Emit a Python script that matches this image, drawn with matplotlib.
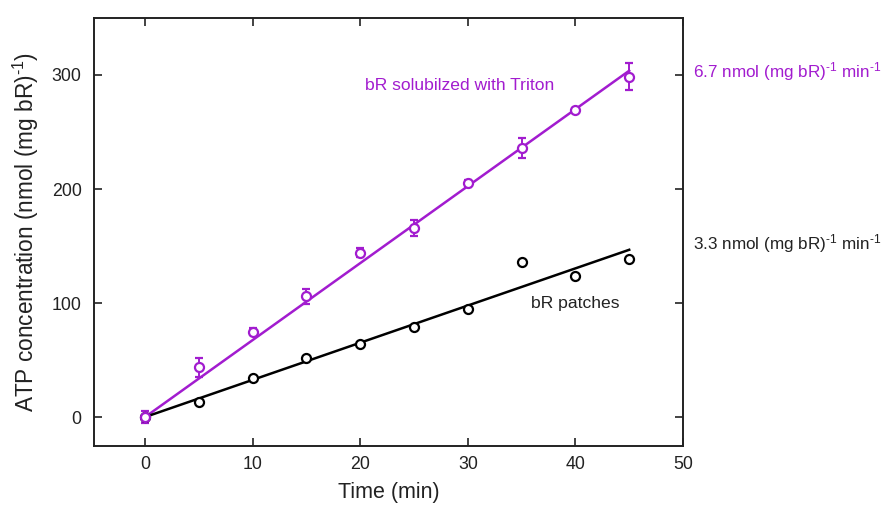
import matplotlib.pyplot as plt
import numpy as np

plt.rcParams["font.family"] = ["Liberation Sans", "DejaVu Sans"]
plt.rcParams["mathtext.fontset"] = "custom"
plt.rcParams["mathtext.rm"] = "Liberation Sans"
plt.rcParams["mathtext.it"] = "Liberation Sans:italic"
plt.rcParams["mathtext.bf"] = "Liberation Sans:bold"

PURPLE = "#A21CCF"
INK = "#222222"

time_min = [0, 5, 10, 15, 20, 25, 30, 35, 40, 45]
triton_atp = [0, 43.5, 75, 106, 144, 165.5, 205, 236, 269, 298.5]
triton_err = [5, 8.5, 3, 6.5, 4, 7, 3, 8.5, 2, 12]
patches_atp = [0, 13.5, 34, 52, 64, 79, 94.5, 136, 124, 138.5]

# fitted rates, nmol (mg bR)^-1 min^-1
triton_slope = 6.75
patches_slope = 3.26
fit_range = [0, 45]

SUP = r"$^{\text{-1}}$"


def main() -> None:
    fig = plt.figure(figsize=(8.83, 5.05), dpi=100)
    ax = fig.add_axes([0.1065, 0.1168, 0.667, 0.8476])

    fx = np.array(fit_range, dtype=float)
    ax.plot(fx, triton_slope * fx, color=PURPLE, linewidth=1.8, zorder=2)
    ax.plot(fx, patches_slope * fx, color="black", linewidth=1.8, zorder=2)

    ax.errorbar(time_min, triton_atp, yerr=triton_err, fmt="o", color=PURPLE,
                mfc="white", mec=PURPLE, ms=6.5, mew=1.6, elinewidth=1.4,
                capsize=3, capthick=1.4, zorder=3)
    ax.plot(time_min, patches_atp, "o", mfc="white", mec="black", ms=6.5, mew=1.6, zorder=3)

    ax.text(20.4, 291, "bR solubilzed with Triton", color=PURPLE, fontsize=12.6,
            va="center", ha="left")
    ax.text(35.9, 100, "bR patches", color=INK, fontsize=12.6, va="center", ha="left")
    ax.text(50.95, 303, f"6.7 nmol (mg bR){SUP} min{SUP}", color=PURPLE, fontsize=12.3,
            va="center", ha="left", clip_on=False)
    ax.text(50.95, 152, f"3.3 nmol (mg bR){SUP} min{SUP}", color=INK, fontsize=12.3,
            va="center", ha="left", clip_on=False)

    ax.set_xlim(-4.74, 50)
    ax.set_ylim(-25.4, 350)
    ax.set_xticks([0, 10, 20, 30, 40, 50])
    ax.set_yticks([0, 100, 200, 300])
    ax.tick_params(direction="in", length=6, width=1.2, top=True, right=True,
                   labelsize=12.8, pad=7, colors=INK)
    ax.tick_params(axis="y", pad=9)
    for spine in ax.spines.values():
        spine.set_linewidth(1.4)
        spine.set_color(INK)

    ax.set_xlabel("Time (min)", fontsize=15.5, labelpad=7, color=INK)
    ax.set_ylabel(f"ATP concentration (nmol (mg bR){SUP})", fontsize=16.3, labelpad=8, color=INK)

    fig.savefig("out.png", dpi=100)
    plt.close(fig)


if __name__ == "__main__":
    main()
